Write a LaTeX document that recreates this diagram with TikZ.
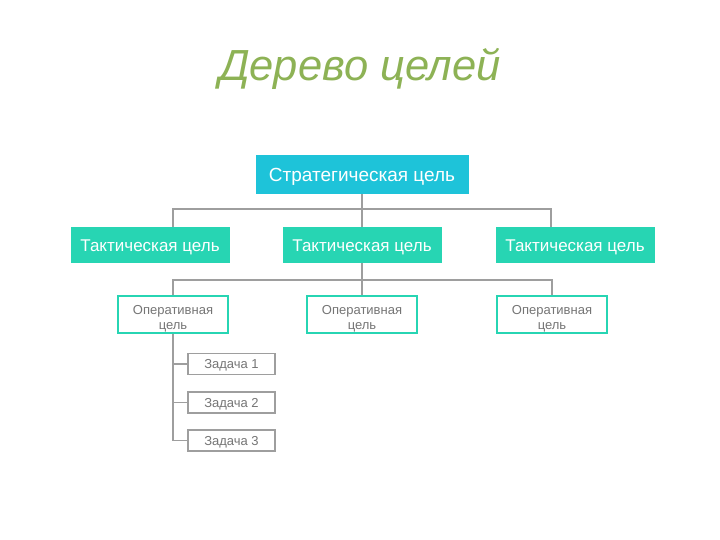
\documentclass[tikz,border=0pt]{standalone}
\usepackage{fontspec}
\setmainfont{Liberation Sans}
\definecolor{titlegreen}{HTML}{8DB255}
\definecolor{stratcyan}{HTML}{1EC3D9}
\definecolor{tactteal}{HTML}{27D5B3}
\definecolor{linegray}{HTML}{9E9E9E}
\definecolor{txtgray}{HTML}{757575}
\newcommand\twolines[2]{\begin{tabular}[b]{@{}c@{}}#1\\#2\end{tabular}}
\begin{document}
\begin{tikzpicture}[x=1pt,y=-1pt,
  strat/.style={fill=stratcyan,draw=none,text=white,inner sep=0pt,text height=13.7pt,text depth=0pt,
    minimum width=213pt,minimum height=39pt,font=\fontsize{19}{22}\selectfont},
  tact/.style={fill=tactteal,draw=none,text=white,inner sep=0pt,text height=12.2pt,text depth=0pt,
    minimum width=159pt,minimum height=36pt,font=\fontsize{17}{20}\selectfont},
  oper/.style={draw=tactteal,line width=2pt,fill=white,text=txtgray,inner sep=0pt,
    text height=31pt,text depth=0pt,
    minimum width=110pt,minimum height=37pt,font=\fontsize{13}{15}\selectfont},
  task/.style={draw=linegray,line width=1.2pt,fill=white,text=txtgray,inner sep=0pt,text height=9.3pt,text depth=0pt,
    minimum width=87pt,minimum height=21pt,font=\fontsize{13}{15}\selectfont},
  conn/.style={draw=linegray,line width=1.3pt}]
\useasboundingbox (0,0) rectangle (720,540);
\node[text=titlegreen,font=\fontsize{43.5}{50}\itshape\selectfont] (title) at (360,69) {Дерево целей};
\node[strat] (s) at (362,174.5) {Стратегическая цель};
\node[tact] (t1) at (150,245) {Тактическая цель};
\node[tact] (t2) at (362,245) {Тактическая цель};
\node[tact] (t3) at (575,245) {Тактическая цель};
\node[oper] (o1) at (173,314) {\twolines{Оперативная}{цель}};
\node[oper] (o2) at (362,314) {\twolines{Оперативная}{цель}};
\node[oper] (o3) at (552,314) {\twolines{Оперативная}{цель}};
\node[task] (k1) at (231.5,364) {Задача 1};
\node[task] (k2) at (231.5,402.5) {Задача 2};
\node[task] (k3) at (231.5,440.5) {Задача 3};
\coordinate (h1) at (362,209);
\coordinate (h2) at (362,280);
\draw[conn] (s.south) -- (h1);
\draw[conn] (h1) -| (173,227 |- t1.north);
\draw[conn] (h1) -- (t2.north);
\draw[conn] (h1) -| (551,227 |- t3.north);
\draw[conn] (t2.south) -- (h2);
\draw[conn] (h2) -| (o1.north);
\draw[conn] (h2) -- (o2.north);
\draw[conn] (h2) -| (o3.north);
\draw[conn] (o1.south) |- (k3.west);
\draw[conn] (o1.south |- k1.west) -- (k1.west);
\draw[conn] (o1.south |- k2.west) -- (k2.west);
\end{tikzpicture}
\end{document}
